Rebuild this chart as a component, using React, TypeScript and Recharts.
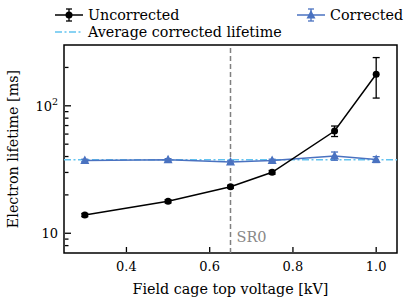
import React from "react";
import {
  ComposedChart,
  Line,
  XAxis,
  YAxis,
  ErrorBar,
  ReferenceLine,
  ReferenceArea,
} from "recharts";

const voltages = [0.3, 0.5, 0.65, 0.75, 0.9, 1.0];
const uncorrected = [13.9, 17.8, 23.2, 30.1, 63.4, 177];
const uncorrectedErr = [0.4, 0.5, 0.6, 1.0, 6, 62];
const corrected = [37.3, 37.7, 36.2, 37.3, 40.4, 37.9];
const correctedErr = [0.8, 0.8, 0.8, 0.8, 3, 2];
const averageCorrected = 37.8;
const xTicks = [0.4, 0.6, 0.8, 1.0];
const yTicks = [8, 9, 10, 20, 30, 40, 50, 60, 70, 80, 90, 100, 200];
const sr0Voltage = 0.65;

const FONT = "DejaVu Serif";
const BLUE = "#4a72c0";
const SKY = "#62c3f0";

const data = voltages.map((v, i) => ({
  v,
  unc: uncorrected[i],
  uncErr: uncorrectedErr[i],
  cor: corrected[i],
  corErr: correctedErr[i],
}));

function XTick(props: any) {
  const { x, y, payload } = props;
  return (
    <g>
      <line x1={x} x2={x} y1={y - 1} y2={y - 6} stroke="#000" strokeWidth={1.3} />
      <text x={x} y={y + 18} textAnchor="middle" fontFamily={FONT} fontSize={13} fill="#000">
        {Number(payload.value).toFixed(1)}
      </text>
    </g>
  );
}

function YTick(props: any) {
  const { x, y, payload } = props;
  const v = payload.value;
  const major = v === 10 || v === 100;
  return (
    <g>
      <line x1={x + 1} x2={x + (major ? 7 : 4.5)} y1={y} y2={y} stroke="#000" strokeWidth={1.3} />
      {v === 10 && (
        <text x={x - 6} y={y + 5} textAnchor="end" fontFamily={FONT} fontSize={13} fill="#000">
          10
        </text>
      )}
      {v === 100 && (
        <text x={x - 6} y={y + 5} textAnchor="end" fontFamily={FONT} fontSize={13} fill="#000">
          10<tspan dy={-6} fontSize={9.5}>2</tspan>
        </text>
      )}
    </g>
  );
}

function Triangle(props: any) {
  const { cx, cy } = props;
  if (cx == null || cy == null) return null;
  return <polygon points={`${cx},${cy - 5} ${cx - 4.5},${cy + 3.5} ${cx + 4.5},${cy + 3.5}`} fill={BLUE} />;
}

function Sr0Label(props: any) {
  const { viewBox } = props;
  if (!viewBox) return null;
  return (
    <text x={viewBox.x + 6} y={viewBox.y + viewBox.height - 11} fontFamily={FONT} fontSize={14.5} fill="#888">
      SR0
    </text>
  );
}

function LegendBox() {
  return (
    <svg width={415} height={45} style={{ position: "absolute", left: 0, top: 0 }}>
      <g>
        <line x1={55} x2={83} y1={15} y2={15} stroke="#000" strokeWidth={1.5} />
        <line x1={69} x2={69} y1={9} y2={21} stroke="#000" strokeWidth={1.3} />
        <line x1={66} x2={72} y1={9} y2={9} stroke="#000" strokeWidth={1.3} />
        <line x1={66} x2={72} y1={21} y2={21} stroke="#000" strokeWidth={1.3} />
        <circle cx={69} cy={15} r={3.5} fill="#000" />
        <text x={88} y={20} fontFamily={FONT} fontSize={14.3} fill="#000">Uncorrected</text>
      </g>
      <g>
        <line x1={297} x2={325} y1={15} y2={15} stroke={BLUE} strokeWidth={1.5} />
        <line x1={311} x2={311} y1={9} y2={21} stroke={BLUE} strokeWidth={1.3} />
        <line x1={308} x2={314} y1={9} y2={9} stroke={BLUE} strokeWidth={1.3} />
        <line x1={308} x2={314} y1={21} y2={21} stroke={BLUE} strokeWidth={1.3} />
        <polygon points="311,10 306.5,18.5 315.5,18.5" fill={BLUE} />
        <text x={330} y={20} fontFamily={FONT} fontSize={14.3} fill="#000">Corrected</text>
      </g>
      <g>
        <line x1={55} x2={83} y1={32} y2={32} stroke={SKY} strokeWidth={1.5} strokeDasharray="7 2.5 2 2.5" />
        <text x={88} y={37} fontFamily={FONT} fontSize={14.3} fill="#000">Average corrected lifetime</text>
      </g>
    </svg>
  );
}

export default function App() {
  return (
    <div style={{ position: "absolute", left: 0, top: 0, width: 415, height: 304, background: "#fff" }}>
      <LegendBox />
      <ComposedChart
        width={415}
        height={304}
        data={data}
        margin={{ top: 45, right: 18, bottom: 50, left: 0 }}
        style={{ position: "absolute", left: 0, top: 0 }}
      >
        <ReferenceArea x1={0.25} x2={1.05} y1={7} y2={300} fill="none" stroke="#000" strokeWidth={1.5} ifOverflow="visible" />
        <XAxis
          dataKey="v"
          type="number"
          domain={[0.25, 1.05]}
          ticks={xTicks}
          allowDataOverflow
          axisLine={false}
          tickLine={false}
          tickSize={0}
          tickMargin={0}
          height={1}
          tick={<XTick />}
          interval={0}
          label={{ value: "Field cage top voltage [kV]", position: "bottom", offset: 30, fontFamily: FONT, fontSize: 14.3, fill: "#000" }}
        />
        <YAxis
          scale="log"
          type="number"
          domain={[7, 300]}
          ticks={yTicks}
          allowDataOverflow
          axisLine={false}
          tickLine={false}
          tickSize={0}
          tickMargin={0}
          width={64}
          interval={0}
          tick={<YTick />}
          label={{
            value: "Electron lifetime [ms]",
            angle: -90,
            position: "insideLeft",
            offset: 13,
            style: { textAnchor: "middle", fontFamily: FONT, fontSize: 14.3, fill: "#000" },
          }}
        />
        <ReferenceLine x={sr0Voltage} stroke="#808080" strokeWidth={1.5} strokeDasharray="5 3" label={<Sr0Label />} />
        <ReferenceLine y={averageCorrected} stroke={SKY} strokeWidth={1.5} strokeDasharray="7 2.5 2 2.5" />
        <Line dataKey="cor" stroke={BLUE} strokeWidth={1.5} dot={<Triangle />} isAnimationActive={false}>
          <ErrorBar dataKey="corErr" width={3.5} stroke={BLUE} strokeWidth={1.3} direction="y" isAnimationActive={false} />
        </Line>
        <Line dataKey="unc" stroke="#000" strokeWidth={1.5} dot={{ r: 3.5, fill: "#000", stroke: "none" }} isAnimationActive={false}>
          <ErrorBar dataKey="uncErr" width={3.5} stroke="#000" strokeWidth={1.3} direction="y" isAnimationActive={false} />
        </Line>
      </ComposedChart>
    </div>
  );
}
